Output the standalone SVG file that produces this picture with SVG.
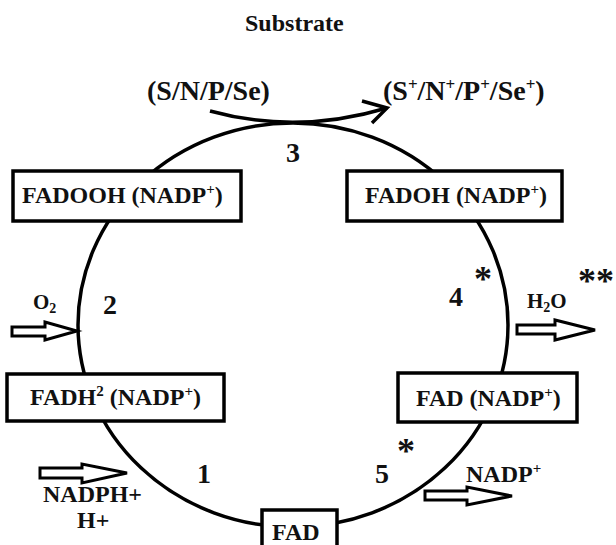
<svg xmlns="http://www.w3.org/2000/svg" width="616" height="545" viewBox="0 0 616 545">
<style>
text{font-family:"Liberation Serif","Times New Roman",serif;font-weight:bold;fill:#111;}
.box{fill:#fff;stroke:#000;stroke-width:3.5;}
.lbl{font-size:24px;}
.big{font-size:28px;}
.num{font-size:28px;text-anchor:middle;}
.ast{font-size:36px;}
.line{fill:none;stroke:#000;stroke-width:3.5;}
.blk{fill:#fff;stroke:#000;stroke-width:3;stroke-linejoin:miter;}
</style>
<rect width="616" height="545" fill="#fff"/>
<g id="connectors">
<ellipse class="line" cx="293" cy="325" rx="215" ry="202"/>
<path class="line" d="M210,111 Q297,135 387,108"/>
<path class="line" d="M362,101 L387,108 L372,123"/>
<polygon class="blk" points="12,327 45,327 45,322 77,331 45,340 45,336 12,336"/>
<polygon class="blk" points="40,468 82,468 82,464 127,473 82,483 82,478 40,478"/>
<polygon class="blk" points="517,325 555,325 555,320 595,330 555,340 555,334 517,334"/>
<polygon class="blk" points="425,491 467,491 467,487 512,496 467,505 467,500 425,500"/>
</g>
<g id="fadooh">
<rect class="box" x="13" y="171" width="228" height="50"/>
<text class="lbl" x="22" y="203">FADOOH (NADP<tspan font-size="15" dy="-9">+</tspan><tspan dy="9">)</tspan></text>
</g>
<g id="fadoh">
<rect class="box" x="347" y="171" width="215" height="50"/>
<text class="lbl" x="365" y="203">FADOH (NADP<tspan font-size="15" dy="-9">+</tspan><tspan dy="9">)</tspan></text>
</g>
<g id="fadh2">
<rect class="box" x="7" y="374" width="217" height="47"/>
<text class="lbl" x="30" y="405">FADH<tspan font-size="15" dy="-9">2</tspan><tspan dy="9"> (NADP</tspan><tspan font-size="15" dy="-9">+</tspan><tspan dy="9">)</tspan></text>
</g>
<g id="fad-nadp">
<rect class="box" x="398" y="373" width="179" height="49"/>
<text class="lbl" x="416" y="406">FAD (NADP<tspan font-size="15" dy="-9">+</tspan><tspan dy="9">)</tspan></text>
</g>
<g id="fad">
<rect class="box" x="262" y="510" width="75" height="45"/>
<text class="lbl" x="272" y="540">FAD</text>
</g>
<g id="labels">
<text class="lbl" x="245" y="31">Substrate</text>
<text class="big" x="147" y="100">(S/N/P/Se)</text>
<text class="big" x="383" y="100">(S<tspan font-size="17" dy="-10">+</tspan><tspan dy="10">/N</tspan><tspan font-size="17" dy="-10">+</tspan><tspan dy="10">/P</tspan><tspan font-size="17" dy="-10">+</tspan><tspan dy="10">/Se</tspan><tspan font-size="17" dy="-10">+</tspan><tspan dy="10">)</tspan></text>
<text class="num" x="293" y="162">3</text>
<text class="num" x="110" y="314">2</text>
<text class="num" x="456" y="306">4</text>
<text class="num" x="204" y="483">1</text>
<text class="num" x="382" y="483">5</text>
<text class="ast" x="474" y="291">*</text>
<text class="ast" x="578" y="293">**</text>
<text class="ast" x="397" y="463">*</text>
<text style="font-size:21px" x="33" y="309">O<tspan font-size="14" dy="4">2</tspan></text>
<text style="font-size:21px" x="527" y="308">H<tspan font-size="14" dy="4">2</tspan><tspan dy="-4">O</tspan></text>
<text style="font-size:24px" x="466" y="482">NADP<tspan font-size="15" dy="-9">+</tspan></text>
<text class="lbl" x="43" y="502">NADPH+</text>
<text class="lbl" x="77" y="528">H+</text>
</g>
</svg>
